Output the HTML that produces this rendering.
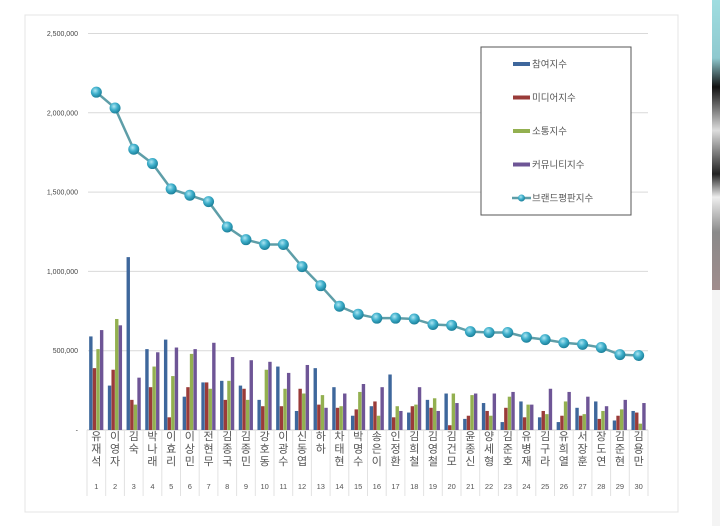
<!DOCTYPE html>
<html><head><meta charset="utf-8"><style>
html,body{margin:0;padding:0;background:#fff;width:720px;height:526px;overflow:hidden;font-family:"Liberation Sans","Noto Sans CJK KR",sans-serif}
</style></head><body>
<svg id="s" width="720" height="526" xmlns="http://www.w3.org/2000/svg" font-family="Liberation Sans, Noto Sans CJK KR, sans-serif">
<defs>
<radialGradient id="ball" cx="40%" cy="35%" r="65%"><stop offset="0" stop-color="#aee6f2"/><stop offset="0.5" stop-color="#3fb0cc"/><stop offset="1" stop-color="#1b7f99"/></radialGradient>
<linearGradient id="strip" x1="0" y1="0" x2="0" y2="1"><stop offset="0" stop-color="#9fdde0"/><stop offset="0.2" stop-color="#8fc9cf"/><stop offset="0.3" stop-color="#111"/><stop offset="0.45" stop-color="#ddd"/><stop offset="0.6" stop-color="#222"/><stop offset="0.68" stop-color="#eee"/><stop offset="0.8" stop-color="#8a8a8a"/><stop offset="1" stop-color="#a08c8c"/></linearGradient>
</defs>
<rect x="712" y="0" width="8" height="526" fill="#f4f4f4"/>
<rect x="712" y="0" width="8" height="290" fill="url(#strip)"/>
<rect x="25" y="15" width="653" height="497" fill="#fff" stroke="#e4e4e4"/>
<g id="g"></g>
</svg>
<script>
var g=document.getElementById('g'),h='';
var y0=430,k=79.3/500;
function Y(v){return y0-v*k;}
var labs=['2,500,000','2,000,000','1,500,000','1,000,000','500,000','-'];
for(var i=0;i<6;i++){var v=2500-i*500,y=Y(v);
 if(i<5)h+='<line x1="88" x2="648" y1="'+y+'" y2="'+y+'" stroke="#d9d9d9"/>';
 h+='<text x="78" y="'+(y+2.5)+'" font-size="7" fill="#444" text-anchor="end">'+labs[i]+'</text>';}
var names=['유재석','이영자','김숙','박나래','이효리','이상민','전현무','김종국','김종민','강호동','이광수','신동엽','하하','차태현','박명수','송은이','인정환','김희철','김영철','김건모','윤종신','양세형','김준호','유병재','김구라','유희열','서장훈','장도연','김준현','김용만'];
var bars=[[590,390,510,630],[280,380,700,660],[1090,190,160,330],[510,270,400,490],[570,80,340,520],[210,270,480,510],[300,300,260,550],[310,190,310,460],[280,260,190,440],[190,150,380,430],[400,150,260,360],[120,260,230,410],[390,160,220,140],[270,140,150,230],[90,130,240,290],[150,180,90,270],[350,80,150,120],[110,150,160,270],[190,140,200,120],[230,30,230,170],[70,90,220,230],[170,120,90,230],[50,140,210,240],[180,80,160,160],[80,120,100,260],[50,90,180,240],[140,90,100,210],[180,70,120,150],[60,90,130,190],[120,110,40,170]];
var line=[2130,2030,1770,1680,1520,1480,1440,1280,1200,1170,1170,1030,910,780,730,705,705,700,665,660,620,615,615,585,570,550,540,520,475,470];
var cols=['#3e679c','#9a3b39','#93b050','#6e5596'];
var x0=87,w=18.7;
h+='<line x1="'+x0+'" x2="'+(x0+30*w)+'" y1="430" y2="430" stroke="#d0d0d0"/>';
for(var i=0;i<30;i++){var cx=x0+w*i+w/2;
 for(var j=0;j<4;j++){var bh=bars[i][j]*k;h+='<rect x="'+(cx-7.2+j*3.6)+'" y="'+(y0-bh)+'" width="3.4" height="'+bh+'" fill="'+cols[j]+'"/>';}
 var lx=x0+w*i;h+='<line x1="'+lx+'" x2="'+lx+'" y1="430" y2="496" stroke="#e2e2e2"/>';
 var n=names[i];for(var c=0;c<n.length;c++)h+='<text x="'+cx+'" y="'+(440+c*12.5)+'" font-size="11" fill="#555" text-anchor="middle">'+n[c]+'</text>';
 h+='<text x="'+cx+'" y="489" font-size="7.5" fill="#555" text-anchor="middle">'+(i+1)+'</text>';}
h+='<line x1="'+(x0+30*w)+'" x2="'+(x0+30*w)+'" y1="430" y2="496" stroke="#e2e2e2"/>';
var pts=line.map(function(v,i){return (x0+w*i+w/2)+','+Y(v)}).join(' ');
h+='<polyline points="'+pts+'" fill="none" stroke="#5e9ea8" stroke-width="2.5"/>';
line.forEach(function(v,i){h+='<circle cx="'+(x0+w*i+w/2)+'" cy="'+Y(v)+'" r="5.5" fill="url(#ball)"/>';});
h+='<rect x="481" y="47" width="150" height="168" fill="#fff" stroke="#555"/>';
var L=['참여지수','미디어지수','소통지수','커뮤니티지수','브랜드평판지수'];
for(var i=0;i<5;i++){var ly=64+i*33.5;
 if(i<4)h+='<rect x="513" y="'+(ly-2)+'" width="17" height="4" fill="'+cols[i]+'"/>';
 else{h+='<line x1="512" x2="531" y1="'+ly+'" y2="'+ly+'" stroke="#5e9ea8" stroke-width="2.5"/><circle cx="521.5" cy="'+ly+'" r="3.5" fill="url(#ball)"/>';}
 h+='<text x="532" y="'+(ly+3.5)+'" font-size="9.5" fill="#555">'+L[i]+'</text>';}
g.innerHTML=h;
</script>
</body></html>
